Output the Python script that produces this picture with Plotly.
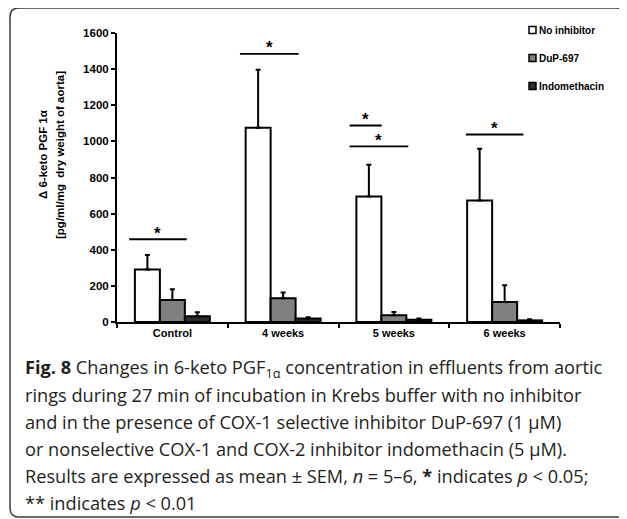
import plotly.graph_objects as go

# ---------------- data ----------------
categories = ["Control", "4 weeks", "5 weeks", "6 weeks"]
series_names = ["No inhibitor", "DuP-697", "Indomethacin"]
no_inhibitor = [291, 1075, 695, 672]
no_inhibitor_err = [80, 322, 175, 287]
dup697 = [122, 132, 37, 111]
dup697_err = [60, 31, 19, 93]
indomethacin = [32, 20, 13, 9]
indomethacin_err = [22, 6, 7, 6]
y_ticks = [0, 200, 400, 600, 800, 1000, 1200, 1400, 1600]

# significance brackets: category, start offset, end offset, level
sig_cats = ["Control", "4 weeks", "5 weeks", "5 weeks", "6 weeks"]
sig_start = [-0.39, -0.39, -0.40, -0.40, -0.35]
sig_end = [0.13, 0.14, -0.11, 0.13, 0.17]
sig_level = [458, 1484, 1088, 972, 1038]

y_title_lines = ["Δ 6-keto PGF 1α", "[pg/ml/mg&nbsp; dry weight of aorta]"]
caption_lines = [
    "<b>Fig. 8</b> Changes in 6-keto PGF<sub>1α</sub> concentration in effluents from aortic",
    "rings during 27 min of incubation in Krebs buffer with no inhibitor",
    "and in the presence of COX-1 selective inhibitor DuP-697 (1 µM)",
    "or nonselective COX-1 and COX-2 inhibitor indomethacin (5 µM).",
    "Results are expressed as mean ± SEM, <i>n</i> = 5–6, <b>*</b> indicates <i>p</i> &lt; 0.05;",
    "** indicates <i>p</i> &lt; 0.01",
]

# ---------------- layout geometry ----------------
OFF = 8  # page body margin
W, H = 627 - OFF, 519 - OFF
L, R, T, B = 117 - OFF, 560 - OFF, 33 - OFF, 322 - OFF


def px(X):
    return (X - OFF - L) / (R - L)


def py(Y):
    return (B - (Y - OFF)) / (B - T)


fills = ["#ffffff", "#808080", "#2e2e2e"]
values = [no_inhibitor, dup697, indomethacin]
errors = [no_inhibitor_err, dup697_err, indomethacin_err]

fig = go.Figure()
for name, vals, errs, fc in zip(series_names, values, errors, fills):
    fig.add_trace(go.Bar(
        x=categories, y=vals, name=name,
        marker=dict(color=fc, line=dict(color="#000000", width=2)),
        error_y=dict(type="data", array=errs, arrayminus=[0] * len(errs),
                     symmetric=False, color="#000000", thickness=2, width=2.5),
        showlegend=False,
    ))

shapes = []
annotations = []

# significance lines and stars
for c, s0, s1, lv in zip(sig_cats, sig_start, sig_end, sig_level):
    i = categories.index(c)
    shapes.append(dict(type="line", xref="x", yref="y", x0=i + s0, x1=i + s1,
                       y0=lv, y1=lv, line=dict(color="#000000", width=1.8)))
    annotations.append(dict(x=i + (s0 + s1) / 2, y=lv, xref="x", yref="y",
                            text="<b>*</b>", showarrow=False, yanchor="middle",
                            yshift=6, font=dict(family="Liberation Sans", size=17, color="#000")))

# manual legend
leg_rows = [30, 58, 86]
for name, fc, ry in zip(series_names, fills, leg_rows):
    shapes.append(dict(type="rect", xref="paper", yref="paper",
                       x0=px(529), x1=px(536), y0=py(ry + 3.5), y1=py(ry - 3.5),
                       fillcolor=fc, line=dict(color="#000000", width=1.5)))
    annotations.append(dict(x=px(537), y=py(ry), xref="paper", yref="paper",
                            text="<b>" + name + "</b>", showarrow=False,
                            xanchor="left", yanchor="middle",
                            font=dict(family="Liberation Sans", size=10, color="#000")))

# y-axis title (two lines)
for txt, cx in zip(y_title_lines, [43, 60]):
    annotations.append(dict(x=px(cx), y=py(155), xref="paper", yref="paper",
                            text="<b>" + txt + "</b>", showarrow=False, textangle=-90,
                            xanchor="center", yanchor="middle",
                            font=dict(family="Liberation Sans", size=11.5, color="#000")))

# caption
cap_y = [368, 395, 422, 449, 476, 503]
for txt, cy in zip(caption_lines, cap_y):
    annotations.append(dict(x=px(23), y=py(cy), xref="paper", yref="paper",
                            text=txt, showarrow=False, xanchor="left", yanchor="middle",
                            font=dict(family="Open Sans", size=18.2, color="#231f20")))

# rounded border
x0, y0, x1, y1, r = 10, 8, 625, 517, 9
path = (f"M {px(x0 + r)} {py(y0)} L {px(x1 - r)} {py(y0)} Q {px(x1)} {py(y0)} {px(x1)} {py(y0 + r)} "
        f"L {px(x1)} {py(y1 - r)} Q {px(x1)} {py(y1)} {px(x1 - r)} {py(y1)} "
        f"L {px(x0 + r)} {py(y1)} Q {px(x0)} {py(y1)} {px(x0)} {py(y1 - r)} "
        f"L {px(x0)} {py(y0 + r)} Q {px(x0)} {py(y0)} {px(x0 + r)} {py(y0)} Z")
shapes.append(dict(type="path", xref="paper", yref="paper", path=path,
                   line=dict(color="#3a3a3a", width=1.5)))

fig.update_layout(
    width=W, height=H,
    margin=dict(l=L, r=W - R, t=T, b=H - B, pad=0),
    paper_bgcolor="#ffffff", plot_bgcolor="#ffffff",
    barmode="group", bargap=0.323, bargroupgap=0,
    shapes=shapes, annotations=annotations,
    showlegend=False,
    xaxis=dict(type="category", showline=True, linecolor="#000", linewidth=2,
               ticks="outside", tickson="boundaries", ticklen=4, tickwidth=1.5,
               tickcolor="#000", showgrid=False, zeroline=False,
               tickfont=dict(family="Liberation Sans", size=11, color="#000", weight="bold")),
    yaxis=dict(range=[0, 1600], tickvals=y_ticks, showline=True, linecolor="#000",
               linewidth=2, ticks="outside", ticklen=4, tickwidth=1.5, tickcolor="#000",
               showgrid=False, zeroline=False,
               tickfont=dict(family="Liberation Sans", size=11.5, color="#000", weight="bold")),
)

fig.write_html("out.html")
